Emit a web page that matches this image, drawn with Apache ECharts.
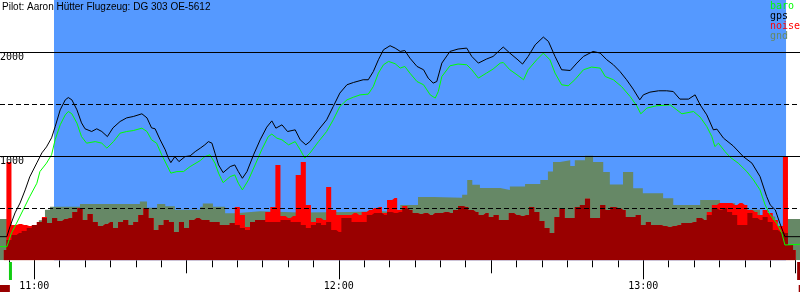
<!DOCTYPE html>
<html>
<head>
<meta charset="utf-8">
<script src="https://cdn.jsdelivr.net/npm/echarts@6/dist/echarts.min.js"></script>
<style>
  html, body { margin: 0; padding: 0; background: #fff; }
  #chart { width: 800px; height: 300px; }
</style>
</head>
<body>
<div id="chart"></div>
<script>
// time axis is in minutes after 11:00
var titleText = 'Pilot: Aaron Hütter Flugzeug: DG 303 OE-5612';
var xMin = -6.76, xMax = 150.87;
var flightStart = 3.88, flightEnd = 148.12;   // blue band
var hourTicks = [0, 60, 120];
var hourLabels = ['11:00', '12:00', '13:00'];
var halfTicks = [30, 90, 150];
var yLabelValues = [1000, 2000];

var gpsMin = [-6.8, -5.4, -4.8, -3.8, -2.8, -1.8, -0.9, 0.5, 1.5, 2.4,
  3.4, 4.1, 5.1, 6.1, 6.7, 7.4, 8.4, 9.3, 10.0, 11.3,
  12.3, 13.3, 14.4, 15.5, 16.9, 18.2, 19.5, 21.2, 22.2, 23.1,
  23.8, 24.8, 25.8, 26.4, 26.9, 27.7, 28.5, 29.7, 30.7, 31.7,
  32.7, 33.6, 34.3, 35.0, 35.6, 36.3, 37.2, 38.6, 39.5, 40.2,
  41.0, 41.9, 43.2, 44.5, 45.8, 46.8, 47.6, 48.8, 49.9, 51.4,
  52.4, 53.5, 54.3, 56.0, 57.6, 58.9, 60.2, 61.6, 62.9, 64.8,
  65.8, 66.8, 67.8, 68.8, 70.1, 71.1, 72.1, 73.0, 74.0, 75.4,
  76.7, 77.6, 78.6, 79.3, 80.3, 81.9, 83.5, 85.2, 86.2, 87.5,
  89.1, 90.4, 91.8, 92.4, 93.7, 95.1, 96.2, 97.3, 98.7, 100.3,
  101.3, 102.6, 103.9, 105.6, 106.9, 108.2, 110.1, 111.5, 112.8, 114.1,
  115.4, 116.7, 118.0, 119.3, 120.0, 121.3, 123.0, 124.6, 125.9, 127.2,
  128.9, 130.2, 131.2, 132.5, 133.8, 134.5, 135.8, 137.7, 139.7, 141.4,
  143.0, 144.3, 145.0, 146.0, 146.9, 147.9, 150.9];
var gpsAlt = [227, 227, 323, 455, 551, 676, 801, 936, 1032, 1089,
  1176, 1282, 1445, 1541, 1563, 1541, 1445, 1320, 1263, 1237,
  1263, 1237, 1188, 1272, 1333, 1368, 1381, 1407, 1368, 1272,
  1263, 1157, 1061, 984, 938, 996, 948, 996, 1003, 1044,
  1077, 1109, 1140, 1125, 1029, 916, 842, 900, 916, 852,
  788, 852, 1013, 1157, 1279, 1339, 1269, 1301, 1237, 1253,
  1157, 1109, 1140, 1253, 1349, 1477, 1606, 1686, 1708, 1734,
  1734, 1813, 1926, 2022, 2061, 2038, 2006, 2015, 1942, 1862,
  1830, 1750, 1702, 1717, 1894, 2006, 2029, 2038, 1958, 1894,
  1933, 1958, 2022, 2048, 1990, 1933, 1885, 1958, 2070, 2144,
  2102, 1958, 1830, 1823, 1894, 1958, 2006, 1990, 1926, 1878,
  1813, 1734, 1644, 1541, 1589, 1615, 1628, 1628, 1621, 1548,
  1548, 1589, 1493, 1397, 1253, 1260, 1173, 1099, 996, 933,
  804, 612, 532, 484, 356, 227, 227];

var baroMin = [-6.8, -5.4, -4.5, -3.5, -2.2, -0.9, 0.5, 1.1, 2.4, 3.4,
  4.1, 5.1, 6.1, 6.7, 7.4, 8.4, 9.3, 10.3, 12.0, 13.3,
  14.3, 15.6, 16.9, 18.2, 19.5, 21.2, 22.2, 23.1, 24.1, 25.1,
  26.1, 26.9, 28.1, 29.4, 30.7, 32.7, 33.6, 34.6, 35.6, 36.3,
  37.2, 38.6, 39.5, 40.2, 41.0, 42.2, 43.5, 44.8, 46.1, 46.8,
  47.8, 48.8, 50.1, 51.4, 52.4, 53.3, 54.3, 56.0, 57.6, 58.9,
  60.2, 61.6, 62.9, 64.2, 65.8, 66.8, 67.8, 68.8, 69.8, 71.1,
  72.1, 73.0, 74.0, 75.4, 76.7, 78.0, 79.0, 79.6, 80.3, 81.9,
  83.5, 85.2, 86.2, 87.5, 89.1, 90.4, 91.8, 92.4, 93.7, 95.1,
  96.4, 97.3, 99.0, 100.3, 101.6, 102.6, 103.9, 105.2, 106.5, 108.2,
  109.8, 111.5, 112.5, 114.1, 115.7, 117.4, 118.7, 119.5, 120.7, 122.6,
  125.3, 126.6, 127.6, 129.9, 131.2, 132.5, 133.5, 134.1, 134.8, 136.1,
  137.1, 138.7, 140.4, 141.7, 143.0, 144.0, 145.0, 146.3, 147.3, 147.9,
  150.9];
var baroAlt = [131, 131, 263, 356, 484, 612, 740, 852, 933, 1013,
  1157, 1301, 1397, 1429, 1407, 1317, 1188, 1125, 1140, 1125,
  1077, 1140, 1221, 1237, 1246, 1269, 1237, 1157, 1125, 1013,
  916, 837, 852, 852, 900, 958, 996, 1013, 933, 837,
  746, 804, 820, 740, 676, 772, 916, 1061, 1188, 1212,
  1173, 1157, 1109, 1140, 1061, 981, 1029, 1140, 1237, 1349,
  1477, 1541, 1567, 1589, 1596, 1669, 1798, 1878, 1910, 1888,
  1846, 1862, 1798, 1717, 1686, 1589, 1558, 1621, 1765, 1868,
  1885, 1878, 1830, 1750, 1798, 1837, 1894, 1900, 1830, 1782,
  1734, 1830, 1926, 1990, 1926, 1798, 1686, 1676, 1734, 1830,
  1856, 1846, 1765, 1734, 1669, 1573, 1484, 1407, 1462, 1484,
  1493, 1445, 1407, 1429, 1375, 1285, 1188, 1092, 1125, 1044,
  990, 933, 852, 772, 676, 532, 436, 356, 260, 147,
  154];

var gndMin = [-6.8, -5.0, 0.9, 2.1, 3.1, 9.0, 20.8, 22.2, 24.2, 25.8,
  27.7, 32.7, 33.2, 35.2, 37.6, 39.7, 44.5, 52.4, 62.2, 68.5,
  72.1, 75.6, 78.6, 84.3, 85.3, 86.3, 87.8, 91.8, 93.7, 96.7,
  99.7, 101.2, 102.2, 103.6, 105.6, 106.5, 108.5, 110.1, 112.1, 113.4,
  116.0, 118.0, 119.9, 123.9, 125.9, 131.2, 135.1, 138.1, 143.0, 146.0,
  148.1, 150.9];
var gndAlt = [397, 300, 385, 485, 515, 540, 565, 505, 540, 520,
  485, 515, 545, 515, 451, 470, 460, 465, 470, 465,
  530, 608, 600, 630, 772, 726, 695, 676, 708, 733,
  772, 854, 944, 960, 906, 960, 1003, 944, 848, 727,
  848, 692, 645, 597, 530, 580, 548, 485, 420, 290,
  397, 397];

// noise, one reading per minute starting at 10:54
var noiseStart = -6;
var noisePeak = [99, 945, 339, 349, 339, 330, 339, 368, 416, 359,
  407, 378, 397, 407, 465, 503, 388, 445, 368, 330,
  349, 368, 311, 368, 388, 339, 368, 436, 503, 407,
  291, 339, 388, 368, 272, 368, 311, 388, 407, 388,
  388, 368, 368, 339, 339, 359, 512, 436, 320, 368,
  388, 388, 465, 512, 916, 426, 407, 426, 820, 945,
  532, 368, 407, 388, 705, 484, 436, 436, 436, 455,
  436, 465, 484, 503, 512, 455, 580, 599, 484, 522,
  484, 455, 445, 455, 436, 455, 455, 465, 455, 484,
  522, 512, 484, 465, 436, 455, 416, 436, 388, 388,
  455, 436, 426, 436, 512, 465, 378, 311, 262, 416,
  503, 407, 407, 512, 532, 590, 407, 407, 532, 484,
  512, 503, 484, 416, 416, 436, 339, 368, 339, 339,
  330, 320, 330, 339, 359, 359, 368, 407, 388, 465,
  532, 551, 551, 551, 532, 551, 532, 484, 465, 436,
  484, 455, 388, 330, 993, 147, 99];
var noiseMean = [99, 195, 243, 262, 282, 311, 339, 368, 407, 359,
  407, 378, 397, 407, 465, 503, 388, 445, 368, 330,
  349, 368, 311, 368, 388, 339, 368, 436, 503, 407,
  291, 339, 388, 368, 272, 368, 311, 388, 407, 388,
  388, 368, 368, 339, 339, 359, 339, 311, 291, 368,
  388, 388, 368, 368, 368, 388, 388, 368, 368, 339,
  311, 339, 359, 339, 368, 291, 272, 407, 407, 368,
  368, 368, 436, 455, 455, 436, 465, 455, 465, 503,
  484, 455, 445, 455, 436, 455, 455, 465, 455, 484,
  522, 512, 484, 465, 436, 455, 416, 436, 388, 388,
  455, 436, 426, 436, 512, 465, 378, 311, 262, 416,
  503, 407, 407, 512, 532, 590, 407, 407, 532, 484,
  512, 503, 484, 416, 416, 436, 339, 368, 339, 339,
  330, 320, 330, 339, 359, 359, 368, 407, 388, 436,
  503, 484, 503, 465, 436, 339, 339, 455, 407, 388,
  416, 368, 291, 272, 262, 147, 99];

// little markers in the strip below the time axis (strip height 0..40, from the bottom)
var footMin = [-4.7, 150.6, -5.8, 151.6];
var footLevel = [29, 29, 11.5, 11.5];
var footColor = ['#11cc11', '#990000', '#990000', '#990000'];
var footSize = [[3, 18], [3, 18], [10, 7], [10, 7]];

function pairs(xs, ys) {
  return xs.map(function(x, i) { return [x, ys[i]]; });
}
function perMinute(vals) {
  return vals.map(function(v, i) { return [noiseStart + i, v]; });
}

var minorTicks = [];
for (var t = -5; t <= 150; t += 5) minorTicks.push(t);

var chart = echarts.init(document.getElementById('chart'));

function timeAxis(extra) {
  return Object.assign({
    type: 'value', gridIndex: 0, position: 'bottom',
    min: xMin, max: xMax,
    axisLine: { show: false },
    splitLine: { show: false },
    axisLabel: { show: false },
    axisTick: { show: false }
  }, extra);
}

var mono = 'DejaVu Sans Mono';

var option = {
  animation: false,
  backgroundColor: '#ffffff',
  title: {
    text: titleText,
    left: 2, top: 2, padding: 0,
    textStyle: { fontFamily: 'Liberation Sans', fontSize: 10, fontWeight: 'normal', color: '#000' }
  },
  legend: {
    orient: 'vertical', right: 0, top: 1, padding: 0, itemGap: 0,
    itemWidth: 0, itemHeight: 0, icon: 'rect',
    selectedMode: false,
    textStyle: { fontFamily: mono, fontSize: 10, lineHeight: 10, padding: 0 },
    data: [
      { name: 'baro', textStyle: { color: '#00ff00' } },
      { name: 'gps', textStyle: { color: '#000000' } },
      { name: 'noise', textStyle: { color: '#ff0000' } },
      { name: 'gnd', textStyle: { color: '#668866' } }
    ]
  },
  grid: [
    { left: 0, right: 0, top: 0, height: 260.3, outerBoundsMode: 'none', containLabel: false },
    { left: 0, right: 0, top: 260.3, height: 39.7, outerBoundsMode: 'none', containLabel: false }
  ],
  xAxis: [
    timeAxis({ axisTick: { show: true, length: 7, customValues: minorTicks, lineStyle: { color: '#000' } } }),
    timeAxis({ axisTick: { show: true, length: 13, customValues: halfTicks, lineStyle: { color: '#000' } } }),
    timeAxis({
      axisTick: { show: true, length: 19, customValues: hourTicks, lineStyle: { color: '#000' } },
      axisLabel: {
        show: true, customValues: hourTicks, margin: 21,
        fontFamily: mono, fontSize: 10, color: '#000',
        formatter: function(v) { return hourLabels[hourTicks.indexOf(v)] || ''; }
      }
    }),
    timeAxis({ gridIndex: 1 })
  ],
  yAxis: [
    {
      type: 'value', position: 'left', min: 0, max: 2500, interval: 500, z: 10,
      axisLine: { show: false }, axisTick: { show: false }, axisLabel: { show: false },
      splitLine: { show: true, showMinLine: false, showMaxLine: false,
        lineStyle: { color: '#000', width: 1, type: [5, 3] } }
    },
    {
      type: 'value', position: 'left', min: 0, max: 2500, interval: 1000, z: 11,
      axisLine: { show: false }, axisTick: { show: false },
      axisLabel: {
        show: true, inside: true, margin: 0, customValues: yLabelValues,
        verticalAlign: 'top', fontFamily: mono, fontSize: 10, color: '#000',
        formatter: function(v) { return String(v); }
      },
      splitLine: { show: true, showMinLine: false, showMaxLine: false,
        lineStyle: { color: '#000', width: 1, type: 'solid' } }
    },
    {
      type: 'value', gridIndex: 1, min: 0, max: 39.7, show: false
    }
  ],
  series: [
    {
      name: 'band', type: 'line', data: [], z: 1, silent: true,
      markArea: {
        silent: true,
        itemStyle: { color: '#5599ff' },
        data: [[{ xAxis: flightStart }, { xAxis: flightEnd }]]
      }
    },
    {
      name: 'gnd', type: 'line', step: 'end', z: 2, symbol: 'none',
      data: pairs(gndMin, gndAlt),
      lineStyle: { width: 0 },
      itemStyle: { color: '#668866' },
      areaStyle: { color: '#668866', opacity: 1 }
    },
    {
      name: 'noise', type: 'line', step: 'middle', z: 3, symbol: 'none',
      data: perMinute(noisePeak),
      lineStyle: { width: 0 },
      itemStyle: { color: '#ff0000' },
      areaStyle: { color: '#ff0000', opacity: 1 }
    },
    {
      name: 'noise mean', type: 'line', step: 'middle', z: 4, symbol: 'none',
      data: perMinute(noiseMean),
      lineStyle: { width: 0 },
      itemStyle: { color: '#990000' },
      areaStyle: { color: '#990000', opacity: 1 }
    },
    {
      name: 'baro', type: 'line', z: 5, symbol: 'none',
      data: pairs(baroMin, baroAlt),
      itemStyle: { color: '#00ff00' },
      lineStyle: { color: '#00ff00', width: 1 }
    },
    {
      name: 'gps', type: 'line', z: 6, symbol: 'none',
      data: pairs(gpsMin, gpsAlt),
      itemStyle: { color: '#000000' },
      lineStyle: { color: '#000000', width: 1 }
    },
    {
      name: 'marks', type: 'scatter', xAxisIndex: 3, yAxisIndex: 2,
      clip: false, silent: true, symbol: 'rect',
      data: footMin.map(function(m, i) {
        return { value: [m, footLevel[i]], symbolSize: footSize[i], itemStyle: { color: footColor[i], opacity: 1 } };
      })
    }
  ]
};

chart.setOption(option);
</script>
</body>
</html>
